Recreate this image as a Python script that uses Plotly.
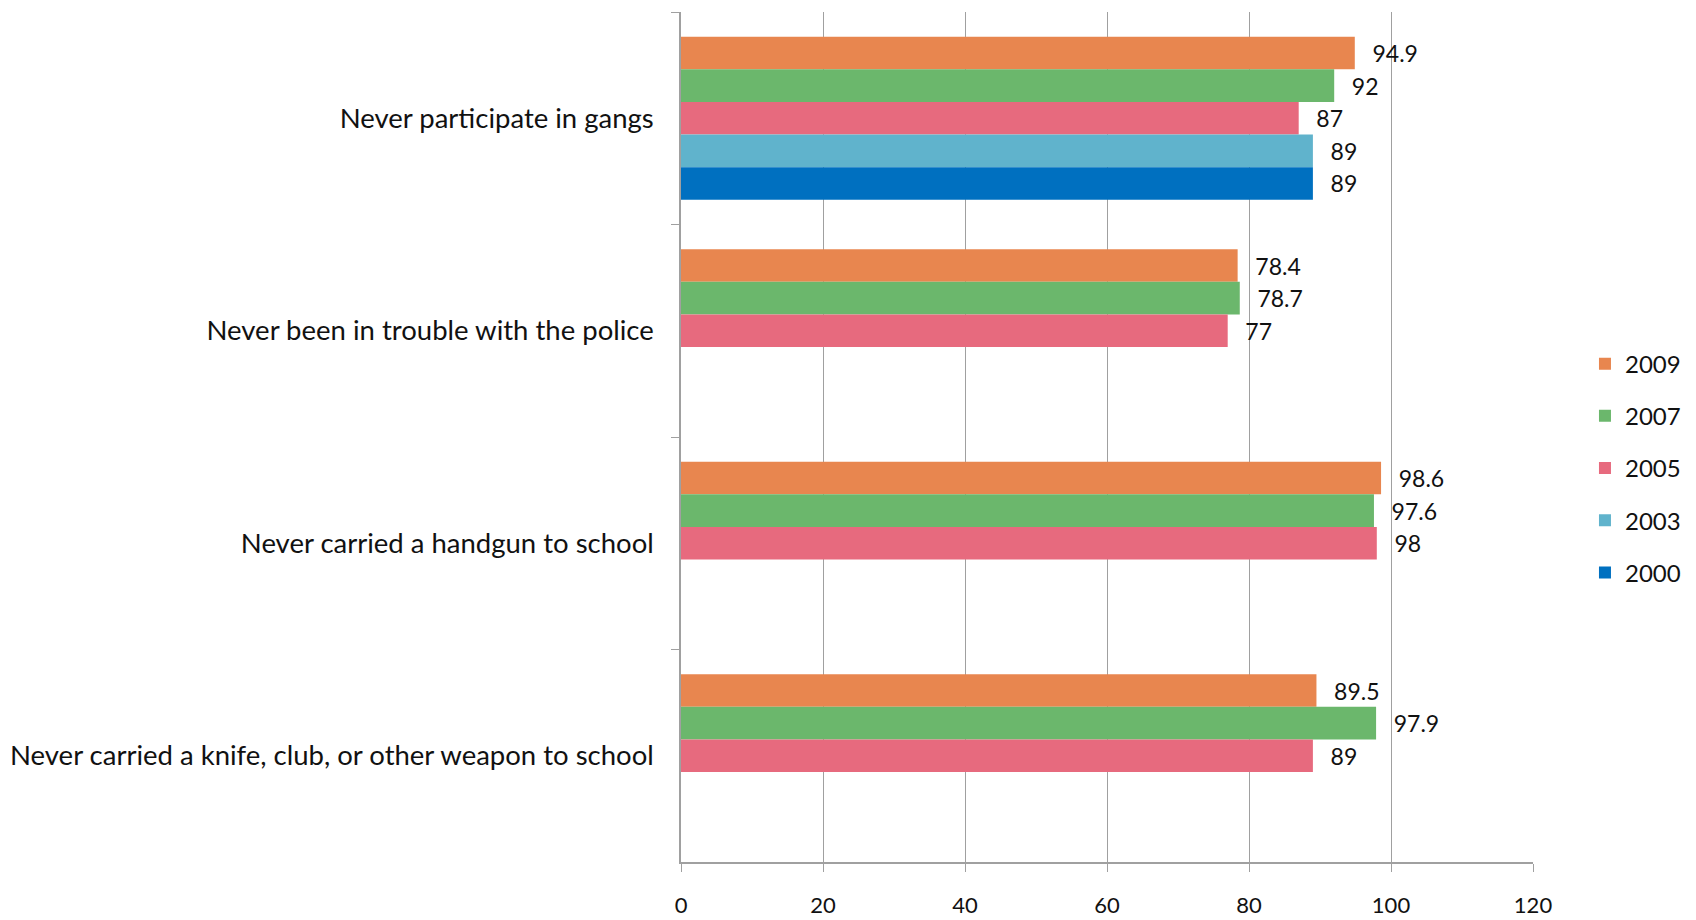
import plotly.graph_objects as go

categories = [
    "Never participate in gangs",
    "Never been in trouble with the police",
    "Never carried a handgun to school",
    "Never carried a knife, club, or other weapon to school",
]
years = ["2009", "2007", "2005", "2003", "2000"]
v2009 = [94.9, 78.4, 98.6, 89.5]
v2007 = [92, 78.7, 97.6, 97.9]
v2005 = [87, 77, 98, 89]
v2003 = [89, None, None, None]
v2000 = [89, None, None, None]
series = [v2009, v2007, v2005, v2003, v2000]
colors = ["#E8864F", "#6BB76C", "#E76A7E", "#60B3CC", "#0070C0"]
x_ticks = [0, 20, 40, 60, 80, 100, 120]

FONT = "Lato"
PAD = "\u00a0\u00a0\u2009"
fig = go.Figure()
for name, vals, col in zip(years, series, colors):
    fig.add_trace(go.Bar(
        y=categories, x=vals, name=name, orientation="h",
        marker=dict(color=col, line=dict(width=0)),
        text=[("" if v is None else PAD + f"{v:g}") for v in vals],
        textposition="outside", cliponaxis=False, constraintext="none",
        textfont=dict(size=23, color="#111111", family=FONT),
        legendgroup=name,
    ))

fig.update_layout(
    barmode="group", bargap=0.233, bargroupgap=0,
    width=1696, height=920,
    margin=dict(l=681, r=163, t=12, b=58, autoexpand=False),
    plot_bgcolor="white", paper_bgcolor="white",
    font=dict(family=FONT, color="#111111"),
    legend=dict(x=1.061, y=0.4635, yanchor="middle", xanchor="left",
                font=dict(size=24, family=FONT), tracegroupgap=18,
                bgcolor="rgba(0,0,0,0)"),
    xaxis=dict(range=[0, 120], tickvals=x_ticks, showgrid=True,
               gridcolor="#A0A0A0", gridwidth=1, zeroline=False,
               showline=True, linecolor="#A0A0A0", linewidth=1.5,
               ticks="outside", ticklen=8, tickcolor="#A0A0A0",
               tickfont=dict(size=22, family=FONT), ticklabelstandoff=15,
               automargin=False),
    yaxis=dict(autorange="reversed", showgrid=False, showline=True,
               linecolor="#A0A0A0", linewidth=1.5, ticks="outside",
               tickson="boundaries", ticklen=8, tickcolor="#A0A0A0",
               tickfont=dict(size=27.5, family=FONT), ticklabelstandoff=20,
               automargin=False),
)
fig.write_html("out.html", config={"displayModeBar": False},
               post_script="document.body.style.margin='0px';document.body.style.overflow='hidden';")
